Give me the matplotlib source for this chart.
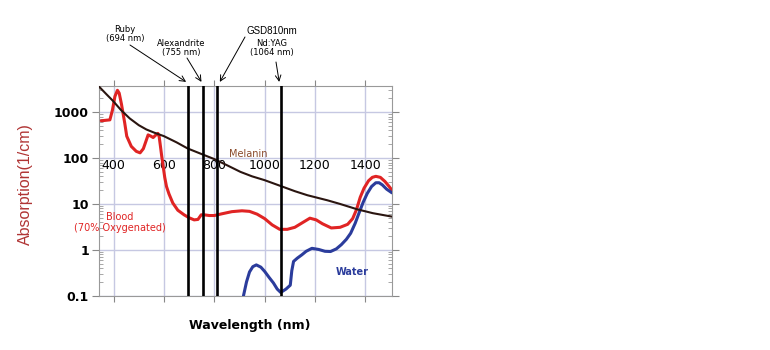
import numpy as np
import matplotlib
matplotlib.use('Agg')
import matplotlib.pyplot as plt

# ---- data ----
blood_wl = [351, 385, 395, 405, 415, 422, 431, 444, 452, 470, 490, 505, 518, 528, 537, 548, 557, 568,
            576, 581, 586, 591, 597, 603, 610, 620, 635, 655, 680, 700, 720, 735, 748, 760, 780,
            800, 830, 870, 910, 940, 970, 1000, 1030, 1060, 1090, 1120, 1150, 1180, 1205, 1230,
            1265, 1300, 1330, 1350, 1365, 1380, 1395, 1413, 1428, 1442, 1460, 1478, 1495, 1506]
blood_abs = [650, 680, 1100, 2200, 3000, 2600, 1500, 580, 300, 180, 140, 130, 160, 230, 320, 300, 280, 320,
             345, 290, 180, 110, 65, 38, 24, 16.5, 10.5, 7.3, 5.8, 5.0, 4.5, 4.6, 5.8, 5.8, 5.6,
             5.6, 6.1, 6.8, 7.1, 6.9, 6.0, 4.8, 3.5, 2.8, 2.8, 3.1, 3.9, 4.9, 4.5, 3.7,
             3.0, 3.1, 3.6, 4.8, 7.5, 14, 22, 32, 38, 40, 38, 31, 24, 20]

melanin_wl = [340, 370, 397, 430, 464, 500, 530, 560, 600, 650, 694, 750, 800, 850, 904, 950, 1000,
              1064, 1120, 1170, 1250, 1300, 1368, 1430, 1506]
melanin_abs = [3700, 2500, 1770, 1100, 730, 520, 420, 360, 300, 220, 162, 122, 95, 70, 50, 40, 33,
               24.6, 19, 15.5, 12, 10, 7.65, 6.3, 5.3]

water_wl = [916, 928, 940, 953, 967, 985, 1000, 1018, 1035, 1050, 1064, 1085, 1102, 1108, 1115, 1130,
            1148, 1165, 1188, 1215, 1240, 1262, 1285, 1305, 1325, 1342, 1360, 1375, 1392, 1408,
            1425, 1442, 1455, 1468, 1485, 1506]
water_abs = [0.1, 0.2, 0.33, 0.43, 0.47, 0.42, 0.34, 0.25, 0.19, 0.14, 0.118, 0.14, 0.17, 0.35, 0.56,
             0.66, 0.78, 0.93, 1.08, 1.02, 0.93, 0.92, 1.05, 1.3, 1.7, 2.3, 3.8, 6.3, 11, 17,
             24, 29, 29, 26, 21, 17.5]

lasers = [694, 755, 810, 1064]
xticks = [400, 600, 800, 1000, 1200, 1400]
yticks = [0.1, 1, 10, 100, 1000]
ytick_labels = ['0.1', '1', '10', '100', '1000']

# ---- figure ----
fig = plt.figure(figsize=(7.7, 3.5), dpi=100)
ax = fig.add_axes([0.128, 0.155, 0.381, 0.599])
ax.set_xlim(340, 1506)
ax.set_ylim(0.1, 3700)
ax.set_yscale('log')

ax.set_xticks(xticks)
ax.set_xticklabels([])
ax.set_yticks(yticks)
ax.set_yticklabels(ytick_labels, fontsize=9, fontweight='bold')
ax.grid(True, which='major', color='#c6c8e2', lw=1.0)
for s in ax.spines.values():
    s.set_color('#999999')
ax.tick_params(axis='x', which='major', direction='out', length=4, color='#888888',
               top=True, bottom=True)
ax.tick_params(axis='y', which='major', direction='out', length=5, color='#888888',
               left=True, right=True, pad=2)
ax.tick_params(axis='y', which='minor', direction='in', length=3, color='#999999',
               left=True, right=True)

style = dict(solid_joinstyle='round', solid_capstyle='round', zorder=3)
ax.plot(blood_wl, blood_abs, color='#e02424', lw=2.2, **style)
ax.plot(water_wl, water_abs, color='#2b3c9c', lw=2.2, **style)
ax.plot(melanin_wl, melanin_abs, color='#2a1510', lw=1.5, solid_joinstyle='round', zorder=4)

# x tick labels sit inside the plot, just under the 100 line
for xt in xticks:
    ax.text(xt, 70, str(xt), ha='center', va='center', fontsize=9, zorder=2)

for w in lasers:
    ax.axvline(w, color='black', lw=1.9, zorder=5)

ax.text(935, 125, 'Melanin', color='#8a4a2a', fontsize=7, ha='center', va='center')
ax.text(423, 4.0, 'Blood\n(70% Oxygenated)', color='#e02424', fontsize=7, ha='center',
        va='center', linespacing=1.1)
ax.text(1350, 0.33, 'Water', color='#2b3c9c', fontsize=7, ha='center', va='center',
        fontweight='bold')

# laser labels with arrows (text positions in figure pixels)
notes = [
    ('Ruby\n(694 nm)', (125, 316), (130, 305), 694),
    ('Alexandrite\n(755 nm)', (181, 302), (187, 292), 755),
    ('Nd:YAG\n(1064 nm)', (272, 302), (276, 288), 1064),
]
for txt, tpos, astart, wl in notes:
    fig.text(tpos[0] / 770, tpos[1] / 350, txt, fontsize=6, ha='center', va='center',
             linespacing=1.1)
    ax.annotate('', xy=(wl - 6, 1.02), xycoords=('data', 'axes fraction'),
                xytext=astart, textcoords='figure pixels', annotation_clip=False,
                arrowprops=dict(arrowstyle='->', lw=0.7, color='black',
                                shrinkA=0, shrinkB=0))
fig.text(272 / 770, 319 / 350, 'GSD810nm', fontsize=7, ha='center', va='center',
         family='Liberation Sans')
ax.annotate('', xy=(822, 1.02), xycoords=('data', 'axes fraction'),
            xytext=(245, 313), textcoords='figure pixels', annotation_clip=False,
            arrowprops=dict(arrowstyle='->', lw=0.7, color='black', shrinkA=0, shrinkB=0))

fig.text(250 / 770, 1 - 325 / 350, 'Wavelength (nm)', fontsize=9, fontweight='bold',
         ha='center', va='center')
fig.text(25 / 770, 1 - 184 / 350, 'Absorption(1/cm)', fontsize=11.5, color='#b03434',
         rotation=90, ha='center', va='center', family='Liberation Sans')

fig.savefig('out.png', dpi=100)
